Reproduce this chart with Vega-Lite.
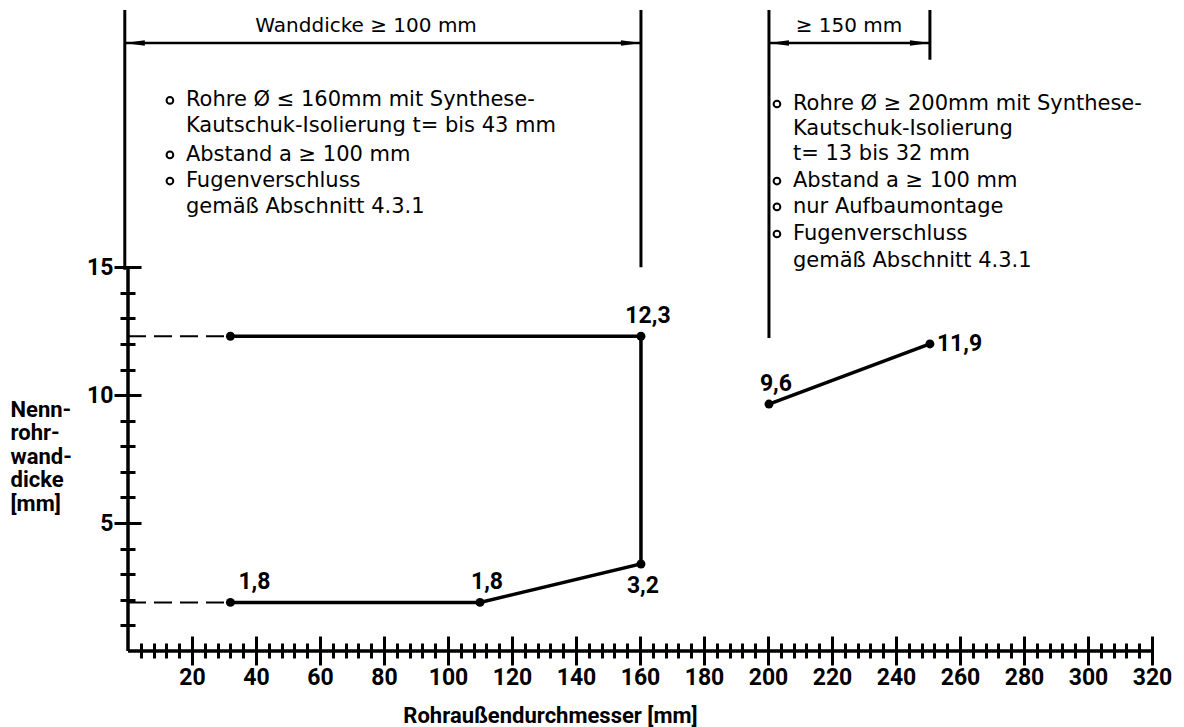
{
  "$schema": "https://vega.github.io/schema/vega-lite/v6.json",
  "width": 1024,
  "height": 650,
  "autosize": {"type": "none"},
  "padding": {"left": 128, "top": 1, "right": 32, "bottom": 76},
  "background": "white",
  "config": {"view": {"stroke": null}, "font": "Roboto"},
  "datasets": {
    "segments": [
      {"kind": "axis", "x": 0, "x2": 320, "y": 0, "y2": 0},
      {"kind": "axis", "x": 0, "x2": 0, "y": 0, "y2": 15},
      {"kind": "ref", "x": -1, "x2": -1, "y": 14.9, "y2": 25.05},
      {"kind": "ref", "x": 160.3, "x2": 160.3, "y": 15, "y2": 25.05},
      {"kind": "ref", "x": 200.3, "x2": 200.3, "y": 12.23, "y2": 25.05},
      {"kind": "ref", "x": 250.6, "x2": 250.6, "y": 23.1, "y2": 25.05},
      {"kind": "dim", "x": -1, "x2": 160.3, "y": 23.76, "y2": 23.76},
      {"kind": "dim", "x": 200.3, "x2": 250.6, "y": 23.76, "y2": 23.76},
      {"kind": "dash", "x": 0, "x2": 32, "y": 12.3, "y2": 12.3},
      {"kind": "dash", "x": 0, "x2": 32, "y": 1.9, "y2": 1.9}
    ],
    "lines": [
      {"series": "A", "order": 1, "x": 32, "y": 12.3, "label": "", "pos": "none"},
      {"series": "A", "order": 2, "x": 160.3, "y": 12.3, "label": "12,3", "pos": "above"},
      {"series": "A", "order": 3, "x": 160.3, "y": 3.4, "label": "3,2", "pos": "below"},
      {"series": "A", "order": 4, "x": 110, "y": 1.9, "label": "1,8", "pos": "above"},
      {"series": "A", "order": 5, "x": 32, "y": 1.9, "label": "1,8", "pos": "aboveright"},
      {"series": "B", "order": 1, "x": 200.3, "y": 9.65, "label": "9,6", "pos": "above"},
      {"series": "B", "order": 2, "x": 250.6, "y": 12.0, "label": "11,9", "pos": "right"}
    ],
    "notes": [
      {"text": "Rohre Ø ≤ 160mm mit Synthese-", "x": 18.1, "y": 21.28, "bullet": true},
      {"text": "Kautschuk-Isolierung t= bis 43 mm", "x": 18.1, "y": 20.3, "bullet": false},
      {"text": "Abstand a ≥ 100 mm", "x": 18.1, "y": 19.15, "bullet": true},
      {"text": "Fugenverschluss", "x": 18.1, "y": 18.13, "bullet": true},
      {"text": "gemäß Abschnitt 4.3.1", "x": 18.1, "y": 17.12, "bullet": false},
      {"text": "Rohre Ø ≥ 200mm mit Synthese-", "x": 207.8, "y": 21.14, "bullet": true},
      {"text": "Kautschuk-Isolierung", "x": 207.8, "y": 20.16, "bullet": false},
      {"text": "t= 13 bis 32 mm", "x": 207.8, "y": 19.19, "bullet": false},
      {"text": "Abstand a ≥ 100 mm", "x": 207.8, "y": 18.13, "bullet": true},
      {"text": "nur Aufbaumontage", "x": 207.8, "y": 17.12, "bullet": true},
      {"text": "Fugenverschluss", "x": 207.8, "y": 16.06, "bullet": true},
      {"text": "gemäß Abschnitt 4.3.1", "x": 207.8, "y": 15.01, "bullet": false}
    ],
    "arrows": [
      {"x": -1, "y": 23.76, "dir": "left"},
      {"x": 160.3, "y": 23.76, "dir": "right"},
      {"x": 200.3, "y": 23.76, "dir": "left"},
      {"x": 250.6, "y": 23.76, "dir": "right"}
    ],
    "dims": [
      {"text": "Wanddicke ≥ 100 mm", "x": 74.4, "y": 24.19},
      {"text": "≥ 150 mm", "x": 225.3, "y": 24.19}
    ]
  },
  "resolve": {"axis": {"x": "independent", "y": "independent"}},
  "layer": [
    {
      "data": {"name": "segments"},
      "mark": {"type": "rule", "color": "black"},
      "encoding": {
        "x": {"field": "x", "type": "quantitative",
          "scale": {"domain": [0, 320], "nice": false, "zero": false},
          "axis": {"orient": "bottom", "values": [4,8,12,16,24,28,32,36,44,48,52,56,64,68,72,76,84,88,92,96,104,108,112,116,124,128,132,136,144,148,152,156,164,168,172,176,184,188,192,196,204,208,212,216,224,228,232,236,244,248,252,256,264,268,272,276,284,288,292,296,304,308,312,316],
            "labels": false, "domain": false, "grid": false, "tickSize": 15, "offset": -8, "tickWidth": 3, "tickColor": "black", "title": null}},
        "x2": {"field": "x2"},
        "y": {"field": "y", "type": "quantitative",
          "scale": {"domain": [0, 25.4], "nice": false, "zero": false},
          "axis": {"orient": "left", "values": [1,2,3,4,6,7,8,9,11,12,13,14],
            "labels": false, "domain": false, "grid": false, "tickSize": 15, "offset": -7, "tickWidth": 3, "tickColor": "black", "title": null}},
        "y2": {"field": "y2"},
        "strokeWidth": {"field": "kind", "type": "nominal", "scale": {"domain": ["axis", "ref", "dim", "dash"], "range": [3.5, 2, 1.5, 1.5]}, "legend": null},
        "strokeDash": {"field": "kind", "type": "nominal", "scale": {"domain": ["axis", "ref", "dim", "dash"], "range": [[1, 0], [1, 0], [1, 0], [18, 8]]}, "legend": null}
      }
    },
    {
      "data": {"name": "lines"},
      "mark": {"type": "line", "color": "black", "strokeWidth": 3.5},
      "encoding": {
        "x": {"field": "x", "type": "quantitative",
          "scale": {"domain": [0, 320], "nice": false, "zero": false},
          "axis": {"orient": "bottom", "values": [20,40,60,80,100,120,140,160,180,200,220,240,260,280,300,320],
            "domain": false, "grid": false, "tickSize": 29, "offset": -15, "tickWidth": 3, "tickColor": "black",
            "labelFont": "Roboto", "labelFontWeight": "bold", "labelFontSize": 23, "labelColor": "black",
            "labelPadding": 1, "labelFlush": false, "labelOverlap": false, "labelBound": false,
            "title": "Rohraußendurchmesser [mm]", "titleFont": "Roboto", "titleFontWeight": "bold", "titleFontSize": 22, "titleColor": "black",
            "titleX": 422, "titleY": 86, "titleBaseline": "alphabetic", "titleAlign": "center"}},
        "y": {"field": "y", "type": "quantitative",
          "scale": {"domain": [0, 25.4], "nice": false, "zero": false},
          "axis": {"orient": "left", "values": [5, 10, 15],
            "domain": false, "grid": false, "tickSize": 27, "offset": -13, "tickWidth": 3, "tickColor": "black",
            "labelFont": "Roboto", "labelFontWeight": "bold", "labelFontSize": 23, "labelColor": "black",
            "labelPadding": 1, "labelFlush": false, "labelOverlap": false, "labelBound": false,
            "title": ["Nenn-", "rohr-", "wand-", "dicke", "[mm]"], "titleFont": "Roboto", "titleFontWeight": "bold", "titleFontSize": 22, "titleColor": "black",
            "titleAngle": 0, "titleAlign": "left", "titleBaseline": "top", "titleX": -131, "titleY": 398, "titleLineHeight": 23.5}},
        "detail": {"field": "series"},
        "order": {"field": "order"}
      }
    },
    {
      "data": {"name": "lines"},
      "mark": {"type": "point", "shape": "circle", "filled": true, "color": "black", "size": 80, "opacity": 1},
      "encoding": {
        "x": {"field": "x", "type": "quantitative", "axis": null},
        "y": {"field": "y", "type": "quantitative", "axis": null}
      }
    },
    {
      "data": {"name": "lines"},
      "transform": [{"filter": "datum.pos === 'above'"}],
      "mark": {"type": "text", "font": "Roboto", "fontWeight": "bold", "fontSize": 23, "color": "black", "align": "center", "baseline": "alphabetic", "dx": 7, "dy": -13},
      "encoding": {
        "x": {"field": "x", "type": "quantitative", "axis": null},
        "y": {"field": "y", "type": "quantitative", "axis": null},
        "text": {"field": "label"}
      }
    },
    {
      "data": {"name": "lines"},
      "transform": [{"filter": "datum.pos === 'aboveright'"}],
      "mark": {"type": "text", "font": "Roboto", "fontWeight": "bold", "fontSize": 23, "color": "black", "align": "left", "baseline": "alphabetic", "dx": 8, "dy": -13},
      "encoding": {
        "x": {"field": "x", "type": "quantitative", "axis": null},
        "y": {"field": "y", "type": "quantitative", "axis": null},
        "text": {"field": "label"}
      }
    },
    {
      "data": {"name": "lines"},
      "transform": [{"filter": "datum.pos === 'below'"}],
      "mark": {"type": "text", "font": "Roboto", "fontWeight": "bold", "fontSize": 23, "color": "black", "align": "center", "baseline": "alphabetic", "dx": 2, "dy": 29},
      "encoding": {
        "x": {"field": "x", "type": "quantitative", "axis": null},
        "y": {"field": "y", "type": "quantitative", "axis": null},
        "text": {"field": "label"}
      }
    },
    {
      "data": {"name": "lines"},
      "transform": [{"filter": "datum.pos === 'right'"}],
      "mark": {"type": "text", "font": "Roboto", "fontWeight": "bold", "fontSize": 23, "color": "black", "align": "left", "baseline": "alphabetic", "dx": 7, "dy": 7},
      "encoding": {
        "x": {"field": "x", "type": "quantitative", "axis": null},
        "y": {"field": "y", "type": "quantitative", "axis": null},
        "text": {"field": "label"}
      }
    },
    {
      "data": {"name": "notes"},
      "mark": {"type": "text", "font": "DejaVu Sans", "fontSize": 21, "color": "black", "align": "left", "baseline": "alphabetic"},
      "encoding": {
        "x": {"field": "x", "type": "quantitative", "axis": null},
        "y": {"field": "y", "type": "quantitative", "axis": null},
        "text": {"field": "text"}
      }
    },
    {
      "data": {"name": "notes"},
      "transform": [{"filter": "datum.bullet"}],
      "mark": {"type": "point", "shape": "circle", "filled": false, "stroke": "black", "strokeWidth": 2, "size": 45, "opacity": 1, "xOffset": -16, "yOffset": -6},
      "encoding": {
        "x": {"field": "x", "type": "quantitative", "axis": null},
        "y": {"field": "y", "type": "quantitative", "axis": null}
      }
    },
    {
      "data": {"name": "arrows"},
      "mark": {"type": "point", "filled": true, "color": "black", "size": 400, "opacity": 1, "strokeWidth": 0},
      "encoding": {
        "x": {"field": "x", "type": "quantitative", "axis": null},
        "y": {"field": "y", "type": "quantitative", "axis": null},
        "shape": {"field": "dir", "type": "nominal", "scale": {"domain": ["left", "right"], "range": ["M0,0L2,-0.28L2,0.28Z", "M0,0L-2,-0.28L-2,0.28Z"]}, "legend": null}
      }
    },
    {
      "data": {"name": "dims"},
      "mark": {"type": "text", "font": "DejaVu Sans", "fontSize": 20, "color": "black", "align": "center", "baseline": "alphabetic"},
      "encoding": {
        "x": {"field": "x", "type": "quantitative", "axis": null},
        "y": {"field": "y", "type": "quantitative", "axis": null},
        "text": {"field": "text"}
      }
    }
  ]
}
